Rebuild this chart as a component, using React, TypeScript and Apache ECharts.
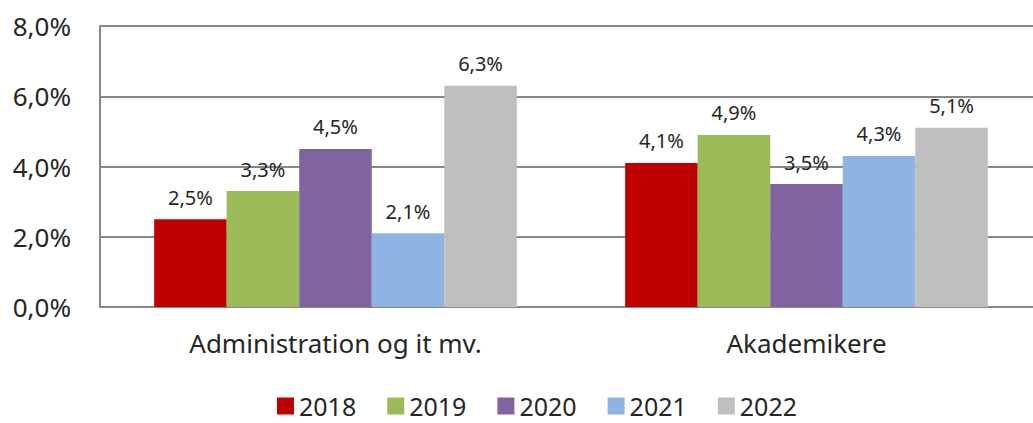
import React, { useEffect, useRef } from "react";
import * as echarts from "echarts";

const categories = ["Administration og it mv.", "Akademikere"];
const years = ["2018", "2019", "2020", "2021", "2022"];
const values2018 = [2.5, 4.1];
const values2019 = [3.3, 4.9];
const values2020 = [4.5, 3.5];
const values2021 = [2.1, 4.3];
const values2022 = [6.3, 5.1];
const yTicks = [0, 2, 4, 6, 8];

const seriesValues = [values2018, values2019, values2020, values2021, values2022];
const colors = ["#C00000", "#9BBB59", "#8064A2", "#8DB4E2", "#BFBFBF"];
const FONT = "Noto Sans";
const fmt = (v: number) => v.toFixed(1).replace(".", ",") + "%";

export default function App() {
  const ref = useRef<HTMLDivElement>(null);
  useEffect(() => {
    if (!ref.current) return;
    const chart = echarts.init(ref.current, undefined, { renderer: "svg" });
    chart.setOption({
      animation: false,
      backgroundColor: "#fff",
      textStyle: { fontFamily: FONT },
      grid: { left: 100, right: 0, top: 26, bottom: 116, containLabel: false },
      legend: {
        top: 393,
        left: 277,
        padding: 0,
        itemWidth: 17,
        itemHeight: 17,
        itemGap: 31,
        icon: "rect",
        textStyle: { fontFamily: FONT, fontSize: 25, lineHeight: 26, color: "#262626" },
        data: years,
      },
      xAxis: {
        type: "category",
        data: categories,
        axisTick: { show: false },
        axisLine: { lineStyle: { color: "#888", width: 2 } },
        axisLabel: { fontFamily: FONT, fontSize: 26, color: "#262626", margin: 23 },
      },
      yAxis: {
        type: "value",
        min: yTicks[0],
        max: yTicks[yTicks.length - 1],
        interval: 2,
        axisLine: { show: true, lineStyle: { color: "#888", width: 2 } },
        axisTick: { show: false },
        splitLine: { lineStyle: { color: "#888", width: 2 } },
        axisLabel: { fontFamily: FONT, fontSize: 26, color: "#262626", margin: 29, formatter: (v: number) => fmt(v) },
      },
      series: years.map((y, i) => ({
        name: y,
        type: "bar",
        data: seriesValues[i],
        barGap: "0%",
        barCategoryGap: "23%",
        itemStyle: { color: colors[i] },
        label: {
          show: true,
          position: "top",
          distance: 12,
          fontFamily: FONT,
          fontSize: 20,
          color: "#262626",
          formatter: (p: any) => fmt(p.value),
        },
      })),
    });
    return () => chart.dispose();
  }, []);
  return (
    <div style={{ position: "absolute", left: 0, top: 0, width: 1033, height: 423, overflow: "hidden", background: "#fff" }}>
      <div ref={ref} style={{ width: 1042, height: 423 }} />
    </div>
  );
}
